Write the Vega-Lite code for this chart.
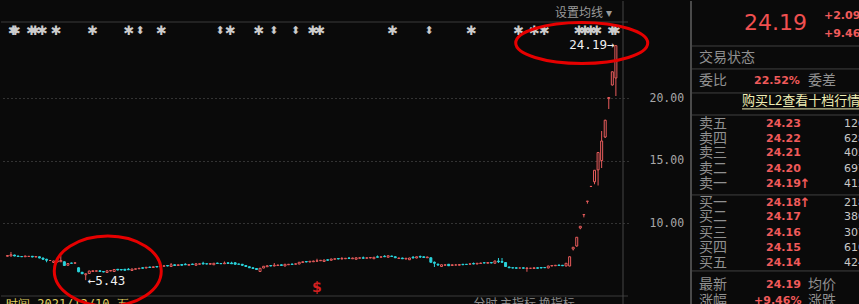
{
"$schema": "https://vega.github.io/schema/vega-lite/v6.json",
"background": "#0a0a0a",
"padding": 0,
"spacing": 63,
"bounds": "flush",
"config": {
  "view": {"stroke": null},
  "axis": {"domain": false, "ticks": false, "labelColor": "#a8a8a8", "labelFont": "DejaVu Sans Mono", "labelFontSize": 11.5, "labelPadding": 21, "labelAlign": "left", "gridColor": "#5c5c5c", "gridDash": [1, 3], "gridWidth": 1, "gridOpacity": 1}
},
"datasets": {
  "candles": [
{"i":0,"o":7.34,"c":7.40,"h":7.42,"l":7.32},{"i":1,"o":7.36,"c":7.46,"h":7.68,"l":7.34},{"i":2,"o":7.44,"c":7.36,"h":7.46,"l":7.34},{"i":3,"o":7.36,"c":7.32,"h":7.38,"l":7.30},{"i":4,"o":7.32,"c":7.30,"h":7.34,"l":7.28},{"i":5,"o":7.30,"c":7.36,"h":7.38,"l":7.28},{"i":6,"o":7.33,"c":7.33,"h":7.35,"l":7.31},{"i":7,"o":7.34,"c":7.28,"h":7.36,"l":7.26},{"i":8,"o":7.28,"c":7.32,"h":7.34,"l":7.26},{"i":9,"o":7.30,"c":7.20,"h":7.32,"l":7.18},
{"i":10,"o":7.20,"c":7.10,"h":7.22,"l":7.06},{"i":11,"o":7.10,"c":7.02,"h":7.14,"l":6.86},{"i":12,"o":7.00,"c":7.00,"h":7.02,"l":6.98},{"i":13,"o":6.84,"c":6.96,"h":6.98,"l":6.82},{"i":14,"o":6.88,"c":6.98,"h":7.00,"l":6.86},{"i":15,"o":6.90,"c":7.00,"h":7.36,"l":6.88},{"i":16,"o":6.90,"c":6.60,"h":6.92,"l":6.58},{"i":17,"o":6.62,"c":6.76,"h":6.78,"l":6.60},{"i":18,"o":6.80,"c":6.78,"h":6.82,"l":6.76},{"i":19,"o":6.78,"c":6.82,"h":6.84,"l":6.76},
{"i":20,"o":6.42,"c":6.10,"h":6.46,"l":6.06},{"i":21,"o":6.06,"c":5.94,"h":6.08,"l":5.92},{"i":22,"o":5.86,"c":5.94,"h":5.96,"l":5.43},{"i":23,"o":5.96,"c":6.16,"h":6.18,"l":5.94},{"i":24,"o":6.12,"c":6.18,"h":6.20,"l":6.10},{"i":25,"o":6.14,"c":6.18,"h":6.20,"l":6.12},{"i":26,"o":6.18,"c":6.12,"h":6.20,"l":6.10},{"i":27,"o":6.12,"c":6.08,"h":6.14,"l":6.06},{"i":28,"o":6.04,"c":6.18,"h":6.20,"l":6.02},{"i":29,"o":6.16,"c":6.20,"h":6.22,"l":6.14},
{"i":30,"o":6.12,"c":6.28,"h":6.30,"l":6.10},{"i":31,"o":6.30,"c":6.24,"h":6.32,"l":6.22},{"i":32,"o":6.28,"c":6.24,"h":6.30,"l":6.22},{"i":33,"o":6.30,"c":6.22,"h":6.32,"l":6.20},{"i":34,"o":6.30,"c":6.26,"h":6.40,"l":6.24},{"i":35,"o":6.20,"c":6.32,"h":6.34,"l":6.18},{"i":36,"o":6.30,"c":6.34,"h":6.36,"l":6.28},{"i":37,"o":6.34,"c":6.38,"h":6.40,"l":6.32},{"i":38,"o":6.42,"c":6.38,"h":6.44,"l":6.36},{"i":39,"o":6.40,"c":6.46,"h":6.48,"l":6.38},
{"i":40,"o":6.48,"c":6.44,"h":6.50,"l":6.42},{"i":41,"o":6.44,"c":6.50,"h":6.52,"l":6.42},{"i":42,"o":6.52,"c":6.48,"h":6.54,"l":6.46},{"i":43,"o":6.50,"c":6.56,"h":6.58,"l":6.48},{"i":44,"o":6.54,"c":6.58,"h":6.60,"l":6.52},{"i":45,"o":6.60,"c":6.56,"h":6.62,"l":6.54},{"i":46,"o":6.52,"c":6.66,"h":6.80,"l":6.48},{"i":47,"o":6.66,"c":6.60,"h":6.68,"l":6.58},{"i":48,"o":6.60,"c":6.66,"h":6.68,"l":6.58},{"i":49,"o":6.68,"c":6.62,"h":6.70,"l":6.60},
{"i":50,"o":6.70,"c":6.66,"h":6.78,"l":6.64},{"i":51,"o":6.62,"c":6.68,"h":6.70,"l":6.60},{"i":52,"o":6.72,"c":6.68,"h":6.74,"l":6.66},{"i":53,"o":6.62,"c":6.74,"h":6.76,"l":6.60},{"i":54,"o":6.70,"c":6.74,"h":6.76,"l":6.68},{"i":55,"o":6.78,"c":6.72,"h":6.90,"l":6.70},{"i":56,"o":6.74,"c":6.72,"h":6.76,"l":6.70},{"i":57,"o":6.70,"c":6.76,"h":6.78,"l":6.68},{"i":58,"o":6.66,"c":6.78,"h":6.80,"l":6.64},{"i":59,"o":6.80,"c":6.76,"h":6.82,"l":6.74},
{"i":60,"o":6.76,"c":6.74,"h":6.78,"l":6.72},{"i":61,"o":6.74,"c":6.80,"h":6.92,"l":6.72},{"i":62,"o":6.82,"c":6.76,"h":6.84,"l":6.74},{"i":63,"o":6.80,"c":6.74,"h":6.90,"l":6.72},{"i":64,"o":6.82,"c":6.70,"h":6.84,"l":6.68},{"i":65,"o":6.72,"c":6.70,"h":6.74,"l":6.68},{"i":66,"o":6.70,"c":6.62,"h":6.72,"l":6.56},{"i":67,"o":6.60,"c":6.52,"h":6.62,"l":6.50},{"i":68,"o":6.50,"c":6.42,"h":6.52,"l":6.40},{"i":69,"o":6.42,"c":6.36,"h":6.44,"l":6.34},
{"i":70,"o":6.36,"c":6.28,"h":6.38,"l":6.26},{"i":71,"o":6.12,"c":6.38,"h":6.40,"l":6.08},{"i":72,"o":6.40,"c":6.54,"h":6.56,"l":6.38},{"i":73,"o":6.50,"c":6.58,"h":6.60,"l":6.48},{"i":74,"o":6.60,"c":6.56,"h":6.62,"l":6.54},{"i":75,"o":6.56,"c":6.62,"h":6.80,"l":6.54},{"i":76,"o":6.60,"c":6.64,"h":6.66,"l":6.58},{"i":77,"o":6.66,"c":6.60,"h":6.68,"l":6.58},{"i":78,"o":6.56,"c":6.70,"h":6.72,"l":6.54},{"i":79,"o":6.66,"c":6.70,"h":6.72,"l":6.64},
{"i":80,"o":6.72,"c":6.68,"h":6.74,"l":6.66},{"i":81,"o":6.70,"c":6.74,"h":6.76,"l":6.68},{"i":82,"o":6.72,"c":6.86,"h":6.88,"l":6.70},{"i":83,"o":6.84,"c":6.90,"h":6.92,"l":6.82},{"i":84,"o":6.92,"c":6.88,"h":6.94,"l":6.86},{"i":85,"o":6.88,"c":6.94,"h":6.96,"l":6.86},{"i":86,"o":6.90,"c":6.96,"h":6.98,"l":6.88},{"i":87,"o":6.94,"c":6.98,"h":7.14,"l":6.92},{"i":88,"o":6.98,"c":7.02,"h":7.04,"l":6.96},{"i":89,"o":6.92,"c":7.04,"h":7.06,"l":6.90},
{"i":90,"o":7.06,"c":7.02,"h":7.08,"l":7.00},{"i":91,"o":7.02,"c":7.12,"h":7.14,"l":7.00},{"i":92,"o":7.10,"c":7.14,"h":7.16,"l":7.08},{"i":93,"o":7.16,"c":7.12,"h":7.18,"l":7.10},{"i":94,"o":7.12,"c":7.16,"h":7.28,"l":7.10},{"i":95,"o":7.14,"c":7.18,"h":7.20,"l":7.12},{"i":96,"o":7.20,"c":7.16,"h":7.28,"l":7.14},{"i":97,"o":7.14,"c":7.20,"h":7.22,"l":7.12},{"i":98,"o":7.10,"c":7.22,"h":7.24,"l":7.08},{"i":99,"o":7.18,"c":7.22,"h":7.24,"l":7.16},
{"i":100,"o":7.22,"c":7.18,"h":7.32,"l":7.16},{"i":101,"o":7.18,"c":7.22,"h":7.24,"l":7.16},{"i":102,"o":7.20,"c":7.24,"h":7.26,"l":7.18},{"i":103,"o":7.14,"c":7.26,"h":7.28,"l":7.12},{"i":104,"o":7.30,"c":7.26,"h":7.40,"l":7.24},{"i":105,"o":7.26,"c":7.30,"h":7.32,"l":7.24},{"i":106,"o":7.34,"c":7.30,"h":7.42,"l":7.28},{"i":107,"o":7.26,"c":7.38,"h":7.40,"l":7.24},{"i":108,"o":7.36,"c":7.32,"h":7.38,"l":7.30},{"i":109,"o":7.30,"c":7.22,"h":7.32,"l":7.20},
{"i":110,"o":7.16,"c":7.20,"h":7.22,"l":7.14},{"i":111,"o":7.20,"c":7.14,"h":7.22,"l":7.12},{"i":112,"o":7.12,"c":7.18,"h":7.20,"l":7.10},{"i":113,"o":7.06,"c":7.20,"h":7.22,"l":7.04},{"i":114,"o":7.26,"c":7.20,"h":7.36,"l":7.18},{"i":115,"o":7.20,"c":7.30,"h":7.32,"l":7.18},{"i":116,"o":7.32,"c":7.28,"h":7.40,"l":7.20},{"i":117,"o":7.30,"c":7.24,"h":7.32,"l":7.22},{"i":118,"o":7.22,"c":7.28,"h":7.30,"l":7.20},{"i":119,"o":7.22,"c":6.86,"h":7.24,"l":6.84},
{"i":120,"o":6.86,"c":6.78,"h":6.92,"l":6.48},{"i":121,"o":6.70,"c":6.64,"h":6.76,"l":6.58},{"i":122,"o":6.52,"c":6.66,"h":6.68,"l":6.48},{"i":123,"o":6.62,"c":6.66,"h":6.68,"l":6.60},{"i":124,"o":6.70,"c":6.58,"h":6.72,"l":6.56},{"i":125,"o":6.60,"c":6.66,"h":6.68,"l":6.58},{"i":126,"o":6.64,"c":6.64,"h":6.70,"l":6.62},{"i":127,"o":6.62,"c":6.68,"h":6.70,"l":6.60},{"i":128,"o":6.70,"c":6.66,"h":6.72,"l":6.64},{"i":129,"o":6.70,"c":6.68,"h":6.72,"l":6.66},
{"i":130,"o":6.70,"c":6.74,"h":6.76,"l":6.68},{"i":131,"o":6.76,"c":6.72,"h":6.84,"l":6.70},{"i":132,"o":6.72,"c":6.78,"h":6.80,"l":6.70},{"i":133,"o":6.76,"c":6.80,"h":6.82,"l":6.74},{"i":134,"o":6.82,"c":6.80,"h":6.84,"l":6.78},{"i":135,"o":6.78,"c":6.84,"h":6.86,"l":6.76},{"i":136,"o":6.84,"c":6.80,"h":6.86,"l":6.78},{"i":137,"o":6.78,"c":6.96,"h":6.98,"l":6.76},{"i":138,"o":6.96,"c":6.90,"h":7.20,"l":6.80},{"i":139,"o":6.92,"c":6.86,"h":7.20,"l":6.84},
{"i":140,"o":6.84,"c":6.52,"h":6.86,"l":6.48},{"i":141,"o":6.48,"c":6.42,"h":6.50,"l":6.40},{"i":142,"o":6.42,"c":6.40,"h":6.44,"l":6.38},{"i":143,"o":6.42,"c":6.38,"h":6.44,"l":6.36},{"i":144,"o":6.40,"c":6.40,"h":6.42,"l":6.38},{"i":145,"o":6.42,"c":6.38,"h":6.44,"l":6.36},{"i":146,"o":6.36,"c":6.40,"h":6.46,"l":6.10},{"i":147,"o":6.38,"c":6.38,"h":6.40,"l":6.36},{"i":148,"o":6.36,"c":6.42,"h":6.44,"l":6.34},{"i":149,"o":6.42,"c":6.38,"h":6.44,"l":6.36},
{"i":150,"o":6.44,"c":6.40,"h":6.46,"l":6.38},{"i":151,"o":6.44,"c":6.42,"h":6.46,"l":6.40},{"i":152,"o":6.40,"c":6.56,"h":6.58,"l":6.38},{"i":153,"o":6.56,"c":6.60,"h":6.62,"l":6.54},{"i":154,"o":6.58,"c":6.62,"h":6.64,"l":6.56},{"i":155,"o":6.64,"c":6.60,"h":6.66,"l":6.58},{"i":156,"o":6.62,"c":6.58,"h":6.64,"l":6.56},{"i":157,"o":6.56,"c":6.78,"h":6.80,"l":6.54},{"i":158,"o":6.56,"c":7.30,"h":7.32,"l":6.54},{"i":159,"o":7.92,"c":8.06,"h":8.06,"l":7.80},
{"i":160,"o":8.16,"c":8.86,"h":8.86,"l":8.10},{"i":161,"o":9.60,"c":9.74,"h":9.76,"l":9.50},{"i":162,"o":10.66,"c":10.68,"h":10.68,"l":10.45},{"i":163,"o":11.73,"c":11.75,"h":11.75,"l":11.55},{"i":164,"o":12.92,"c":12.93,"h":12.93,"l":12.92},{"i":165,"o":13.30,"c":14.22,"h":14.22,"l":13.10},{"i":166,"o":14.25,"c":15.64,"h":15.64,"l":13.00},{"i":167,"o":15.00,"c":16.56,"h":17.36,"l":14.40},{"i":168,"o":16.88,"c":18.22,"h":18.26,"l":16.80},{"i":169,"o":19.95,"c":20.04,"h":20.04,"l":19.12},
{"i":170,"o":21.04,"c":22.10,"h":22.10,"l":21.00},{"i":171,"o":21.60,"c":24.19,"h":24.19,"l":20.16}
  ]
},
"hconcat": [
{
  "width": 627,
  "height": 304,
  "layer": [
    {
      "data": {"name": "candles"},
      "mark": {"type": "rule", "strokeWidth": 1},
      "encoding": {
        "x": {"field": "i", "type": "quantitative", "scale": {"domain": [-0.4, 173], "nice": false, "zero": false}, "axis": null},
        "y": {"field": "l", "type": "quantitative", "scale": {"domain": [3.44, 27.76], "nice": false, "zero": false}, "axis": {"orient": "right", "values": [10, 15, 20], "format": ".2f", "title": null}},
        "y2": {"field": "h"},
        "color": {"condition": {"test": "datum.c < datum.o", "value": "#2ad4dc"}, "value": "#e85c5c"}
      }
    },
    {
      "data": {"name": "candles"},
      "mark": {"type": "bar", "width": 2, "strokeWidth": 1},
      "encoding": {
        "x": {"field": "i", "type": "quantitative", "scale": {"domain": [-0.4, 173], "nice": false, "zero": false}, "axis": null},
        "y": {"field": "o", "type": "quantitative", "scale": {"domain": [3.44, 27.76], "nice": false, "zero": false}, "axis": {"orient": "right", "values": [10, 15, 20], "format": ".2f", "title": null}},
        "y2": {"field": "c"},
        "fill": {"condition": {"test": "datum.c < datum.o", "value": "#2ad4dc"}, "value": "#0a0a0a"},
        "stroke": {"condition": {"test": "datum.c < datum.o", "value": "#2ad4dc"}, "value": "#e85c5c"}
      }
    },
    {
      "data": {"values": [{"p": 26.08}, {"p": 4.16}]},
      "mark": {"type": "rule", "color": "#3a3a3a", "strokeWidth": 1},
      "encoding": {
        "y": {"field": "p", "type": "quantitative", "scale": {"domain": [3.44, 27.76], "nice": false, "zero": false}, "axis": {"orient": "right", "values": [10, 15, 20], "format": ".2f", "title": null}}
      }
    },
    {
      "data": {"values": [{"i": 173}]},
      "mark": {"type": "rule", "color": "#444444", "strokeWidth": 1},
      "encoding": {
        "x": {"field": "i", "type": "quantitative", "scale": {"domain": [-0.4, 173], "nice": false, "zero": false}, "axis": null}
      }
    },
    {
      "data": {"values": [
        {"i":1.67,"p":25.36,"t":"✱"},{"i":2.23,"p":25.36,"t":"✱"},{"i":6.79,"p":25.36,"t":"✱"},{"i":7.9,"p":25.36,"t":"✱"},{"i":9.83,"p":25.36,"t":"✱"},{"i":13.7,"p":25.36,"t":"✱"},{"i":23.94,"p":25.36,"t":"✱"},{"i":34.17,"p":25.36,"t":"✱"},{"i":43.3,"p":25.36,"t":"✱"},{"i":62.65,"p":25.36,"t":"✱"},{"i":70.67,"p":25.36,"t":"✱"},{"i":85.9,"p":25.36,"t":"✱"},{"i":87.8,"p":25.36,"t":"✱"},{"i":108.3,"p":25.36,"t":"✱"},{"i":130.4,"p":25.36,"t":"✱"},{"i":143.7,"p":25.36,"t":"✱"},{"i":148.1,"p":25.36,"t":"✱"},{"i":150.9,"p":25.36,"t":"✱"},{"i":160.7,"p":25.36,"t":"✱"},{"i":162.35,"p":25.36,"t":"✱"},{"i":164.0,"p":25.36,"t":"✱"},{"i":165.7,"p":25.36,"t":"✱"},{"i":170.1,"p":25.36,"t":"✱"},{"i":170.9,"p":25.36,"t":"✱"}
      ]},
      "mark": {"type": "text", "font": "DejaVu Sans", "fontWeight": "bold", "fontSize": 13, "color": "#cccccc", "align": "center", "baseline": "middle"},
      "encoding": {
        "x": {"field": "i", "type": "quantitative", "scale": {"domain": [-0.4, 173], "nice": false, "zero": false}, "axis": null},
        "y": {"field": "p", "type": "quantitative", "scale": {"domain": [3.44, 27.76], "nice": false, "zero": false}, "axis": {"orient": "right", "values": [10, 15, 20], "format": ".2f", "title": null}},
        "text": {"field": "t"}
      }
    },
    {
      "data": {"values": [
        {"i":37.3,"p":25.36,"t":"⬍"},{"i":59.75,"p":25.36,"t":"⬍"},{"i":74.9,"p":25.36,"t":"⬍"},{"i":81.0,"p":25.36,"t":"⬍"},{"i":118.5,"p":25.36,"t":"⬍"}
      ]},
      "mark": {"type": "text", "font": "DejaVu Sans", "fontSize": 11, "color": "#cccccc", "align": "center", "baseline": "middle"},
      "encoding": {
        "x": {"field": "i", "type": "quantitative", "scale": {"domain": [-0.4, 173], "nice": false, "zero": false}, "axis": null},
        "y": {"field": "p", "type": "quantitative", "scale": {"domain": [3.44, 27.76], "nice": false, "zero": false}, "axis": {"orient": "right", "values": [10, 15, 20], "format": ".2f", "title": null}},
        "text": {"field": "t"}
      }
    },
    {
      "data": {"values": [{"i": 22.55, "p": 5.36, "t": "←5.43"}]},
      "mark": {"type": "text", "font": "DejaVu Sans Mono", "fontSize": 12.5, "color": "#f0f0f0", "align": "left", "baseline": "middle"},
      "encoding": {
        "x": {"field": "i", "type": "quantitative", "scale": {"domain": [-0.4, 173], "nice": false, "zero": false}, "axis": null},
        "y": {"field": "p", "type": "quantitative", "scale": {"domain": [3.44, 27.76], "nice": false, "zero": false}, "axis": {"orient": "right", "values": [10, 15, 20], "format": ".2f", "title": null}},
        "text": {"field": "t"}
      }
    },
    {
      "data": {"values": [{"i": 170.6, "p": 24.24, "t": "24.19→"}]},
      "mark": {"type": "text", "font": "DejaVu Sans Mono", "fontSize": 12.5, "color": "#f0f0f0", "align": "right", "baseline": "middle"},
      "encoding": {
        "x": {"field": "i", "type": "quantitative", "scale": {"domain": [-0.4, 173], "nice": false, "zero": false}, "axis": null},
        "y": {"field": "p", "type": "quantitative", "scale": {"domain": [3.44, 27.76], "nice": false, "zero": false}, "axis": {"orient": "right", "values": [10, 15, 20], "format": ".2f", "title": null}},
        "text": {"field": "t"}
      }
    },
    {
      "data": {"values": [{"i": 87, "p": 4.8, "t": "$"}]},
      "mark": {"type": "text", "font": "DejaVu Sans", "fontWeight": "bold", "fontSize": 14, "color": "#d42020", "align": "center", "baseline": "middle"},
      "encoding": {
        "x": {"field": "i", "type": "quantitative", "scale": {"domain": [-0.4, 173], "nice": false, "zero": false}, "axis": null},
        "y": {"field": "p", "type": "quantitative", "scale": {"domain": [3.44, 27.76], "nice": false, "zero": false}, "axis": {"orient": "right", "values": [10, 15, 20], "format": ".2f", "title": null}},
        "text": {"field": "t"}
      }
    },
    {
      "data": {"values": [{"i": 153.9, "p": 26.8, "t": "设置均线 ▾"}]},
      "mark": {"type": "text", "font": "Noto Sans CJK SC", "fontSize": 12, "color": "#9a9a9a", "align": "left", "baseline": "middle"},
      "encoding": {
        "x": {"field": "i", "type": "quantitative", "scale": {"domain": [-0.4, 173], "nice": false, "zero": false}, "axis": null},
        "y": {"field": "p", "type": "quantitative", "scale": {"domain": [3.44, 27.76], "nice": false, "zero": false}, "axis": {"orient": "right", "values": [10, 15, 20], "format": ".2f", "title": null}},
        "text": {"field": "t"}
      }
    },
    {
      "data": {"values": [{"i": 130.96, "p": 3.92, "t": "分时  主指标  换指标"}]},
      "mark": {"type": "text", "font": "Noto Sans CJK SC", "fontSize": 12, "color": "#8a8a8a", "align": "left", "baseline": "top", "clip": true},
      "encoding": {
        "x": {"field": "i", "type": "quantitative", "scale": {"domain": [-0.4, 173], "nice": false, "zero": false}, "axis": null},
        "y": {"field": "p", "type": "quantitative", "scale": {"domain": [3.44, 27.76], "nice": false, "zero": false}, "axis": {"orient": "right", "values": [10, 15, 20], "format": ".2f", "title": null}},
        "text": {"field": "t"}
      }
    },
    {
      "data": {"values": [{"i": -0.4, "p": 3.92, "t": "时间 2021/12/10 五"}]},
      "mark": {"type": "text", "font": "DejaVu Sans Mono", "fontSize": 12, "color": "#e0d060", "align": "left", "baseline": "top", "clip": true},
      "encoding": {
        "x": {"field": "i", "type": "quantitative", "scale": {"domain": [-0.4, 173], "nice": false, "zero": false}, "axis": null},
        "y": {"field": "p", "type": "quantitative", "scale": {"domain": [3.44, 27.76], "nice": false, "zero": false}, "axis": {"orient": "right", "values": [10, 15, 20], "format": ".2f", "title": null}},
        "text": {"field": "t"}
      }
    },
    {
      "data": {"values": [{"i": 28.2, "p": 6.16}]},
      "mark": {"type": "point", "shape": "M-1,0A1,0.654 0 1,1 1,0A1,0.654 0 1,1 -1,0Z", "size": 11449, "filled": false, "color": "#e60000", "strokeWidth": 3, "opacity": 1, "clip": true},
      "encoding": {
        "x": {"field": "i", "type": "quantitative", "scale": {"domain": [-0.4, 173], "nice": false, "zero": false}, "axis": null},
        "y": {"field": "p", "type": "quantitative", "scale": {"domain": [3.44, 27.76], "nice": false, "zero": false}, "axis": {"orient": "right", "values": [10, 15, 20], "format": ".2f", "title": null}}
      }
    },
    {
      "data": {"values": [{"i": 161.4, "p": 24.4}]},
      "mark": {"type": "point", "shape": "M-1,0A1,0.31 0 1,1 1,0A1,0.31 0 1,1 -1,0Z", "size": 17424, "filled": false, "color": "#e60000", "strokeWidth": 3, "opacity": 1},
      "encoding": {
        "x": {"field": "i", "type": "quantitative", "scale": {"domain": [-0.4, 173], "nice": false, "zero": false}, "axis": null},
        "y": {"field": "p", "type": "quantitative", "scale": {"domain": [3.44, 27.76], "nice": false, "zero": false}, "axis": {"orient": "right", "values": [10, 15, 20], "format": ".2f", "title": null}}
      }
    }
  ]
},
{
  "width": 169,
  "height": 304,
  "layer": [
    {
      "data": {"values": [{"r": 2.96}, {"r": 4.47}, {"r": 6.05}, {"r": 7.5}, {"r": 12.76}, {"r": 17.76}]},
      "mark": {"type": "rule", "color": "#404040", "strokeWidth": 1},
      "encoding": {
        "y": {"field": "r", "type": "quantitative", "scale": {"domain": [0, 20], "reverse": true, "nice": false, "zero": false}, "axis": null}
      }
    },
    {
      "data": {"values": [{"c": 0}]},
      "mark": {"type": "rule", "color": "#4a4a4a", "strokeWidth": 2},
      "encoding": {
        "x": {"field": "c", "type": "quantitative", "scale": {"domain": [0, 20], "nice": false, "zero": false}, "axis": null}
      }
    },
    {
      "data": {"values": [{"c": 6.04, "c2": 20, "r": 7.1}]},
      "mark": {"type": "rule", "color": "#f0eeb4", "strokeWidth": 1},
      "encoding": {
        "x": {"field": "c", "type": "quantitative", "scale": {"domain": [0, 20], "nice": false, "zero": false}, "axis": null},
        "x2": {"field": "c2"},
        "y": {"field": "r", "type": "quantitative", "scale": {"domain": [0, 20], "reverse": true, "nice": false, "zero": false}, "axis": null}
      }
    },
    {
      "data": {"values": [{"c": 6.27, "r": 1.45, "t": "24.19"}]},
      "mark": {"type": "text", "font": "DejaVu Sans", "fontSize": 22, "color": "#f05050", "align": "left", "baseline": "middle"},
      "encoding": {
        "x": {"field": "c", "type": "quantitative", "scale": {"domain": [0, 20], "nice": false, "zero": false}, "axis": null},
        "y": {"field": "r", "type": "quantitative", "scale": {"domain": [0, 20], "reverse": true, "nice": false, "zero": false}, "axis": null},
        "text": {"field": "t"}
      }
    },
    {
      "data": {"values": [
        {"c": 15.74, "r": 0.99, "t": "+2.09"}, {"c": 15.74, "r": 2.17, "t": "+9.46%"}, {"c": 7.46, "r": 5.26, "t": "22.52%"},
        {"c": 8.88, "r": 8.09, "t": "24.23"}, {"c": 8.88, "r": 9.05, "t": "24.22"}, {"c": 8.88, "r": 10.03, "t": "24.21"}, {"c": 8.88, "r": 11.05, "t": "24.20"}, {"c": 8.88, "r": 12.04, "t": "24.19"},
        {"c": 8.88, "r": 13.29, "t": "24.18"}, {"c": 8.88, "r": 14.24, "t": "24.17"}, {"c": 8.88, "r": 15.26, "t": "24.16"}, {"c": 8.88, "r": 16.25, "t": "24.15"}, {"c": 8.88, "r": 17.24, "t": "24.14"},
        {"c": 8.88, "r": 18.68, "t": "24.19"}, {"c": 7.46, "r": 19.74, "t": "+9.46%"}
      ]},
      "mark": {"type": "text", "font": "DejaVu Sans", "fontWeight": "bold", "fontSize": 11, "color": "#f05a5a", "align": "left", "baseline": "middle", "clip": true},
      "encoding": {
        "x": {"field": "c", "type": "quantitative", "scale": {"domain": [0, 20], "nice": false, "zero": false}, "axis": null},
        "y": {"field": "r", "type": "quantitative", "scale": {"domain": [0, 20], "reverse": true, "nice": false, "zero": false}, "axis": null},
        "text": {"field": "t"}
      }
    },
    {
      "data": {"values": [{"c": 12.85, "r": 12.04, "t": "↑"}, {"c": 12.85, "r": 13.29, "t": "↑"}]},
      "mark": {"type": "text", "font": "DejaVu Sans", "fontWeight": "bold", "fontSize": 13, "color": "#f05a5a", "align": "left", "baseline": "middle"},
      "encoding": {
        "x": {"field": "c", "type": "quantitative", "scale": {"domain": [0, 20], "nice": false, "zero": false}, "axis": null},
        "y": {"field": "r", "type": "quantitative", "scale": {"domain": [0, 20], "reverse": true, "nice": false, "zero": false}, "axis": null},
        "text": {"field": "t"}
      }
    },
    {
      "data": {"values": [
        {"c": 0.95, "r": 3.75, "t": "交易状态"}, {"c": 0.95, "r": 5.26, "t": "委比"}, {"c": 13.85, "r": 5.26, "t": "委差"},
        {"c": 0.95, "r": 8.09, "t": "卖五"}, {"c": 0.95, "r": 9.05, "t": "卖四"}, {"c": 0.95, "r": 10.03, "t": "卖三"}, {"c": 0.95, "r": 11.05, "t": "卖二"}, {"c": 0.95, "r": 12.04, "t": "卖一"},
        {"c": 0.95, "r": 13.29, "t": "买一"}, {"c": 0.95, "r": 14.24, "t": "买二"}, {"c": 0.95, "r": 15.26, "t": "买三"}, {"c": 0.95, "r": 16.25, "t": "买四"}, {"c": 0.95, "r": 17.24, "t": "买五"},
        {"c": 0.95, "r": 18.68, "t": "最新"}, {"c": 13.85, "r": 18.68, "t": "均价"}, {"c": 0.95, "r": 19.74, "t": "涨幅"}, {"c": 13.85, "r": 19.74, "t": "涨跌"}
      ]},
      "mark": {"type": "text", "font": "Noto Sans CJK SC", "fontSize": 14, "color": "#909090", "align": "left", "baseline": "middle", "clip": true},
      "encoding": {
        "x": {"field": "c", "type": "quantitative", "scale": {"domain": [0, 20], "nice": false, "zero": false}, "axis": null},
        "y": {"field": "r", "type": "quantitative", "scale": {"domain": [0, 20], "reverse": true, "nice": false, "zero": false}, "axis": null},
        "text": {"field": "t"}
      }
    },
    {
      "data": {"values": [{"c": 6.04, "r": 6.58, "t": "购买L2查看十档行情"}]},
      "mark": {"type": "text", "font": "Noto Sans CJK SC", "fontSize": 13, "color": "#f0eeb4", "align": "left", "baseline": "middle", "clip": true},
      "encoding": {
        "x": {"field": "c", "type": "quantitative", "scale": {"domain": [0, 20], "nice": false, "zero": false}, "axis": null},
        "y": {"field": "r", "type": "quantitative", "scale": {"domain": [0, 20], "reverse": true, "nice": false, "zero": false}, "axis": null},
        "text": {"field": "t"}
      }
    },
    {
      "data": {"values": [
        {"c": 18.1, "r": 8.09, "t": "126"}, {"c": 18.1, "r": 9.05, "t": "628"}, {"c": 18.1, "r": 10.03, "t": "405"}, {"c": 18.1, "r": 11.05, "t": "697"}, {"c": 18.1, "r": 12.04, "t": "415"},
        {"c": 18.1, "r": 13.29, "t": "218"}, {"c": 18.1, "r": 14.24, "t": "380"}, {"c": 18.1, "r": 15.26, "t": "307"}, {"c": 18.1, "r": 16.25, "t": "610"}, {"c": 18.1, "r": 17.24, "t": "424"}
      ]},
      "mark": {"type": "text", "font": "DejaVu Sans", "fontSize": 11, "color": "#c8c8c8", "align": "left", "baseline": "middle", "clip": true},
      "encoding": {
        "x": {"field": "c", "type": "quantitative", "scale": {"domain": [0, 20], "nice": false, "zero": false}, "axis": null},
        "y": {"field": "r", "type": "quantitative", "scale": {"domain": [0, 20], "reverse": true, "nice": false, "zero": false}, "axis": null},
        "text": {"field": "t"}
      }
    }
  ]
}
]
}
